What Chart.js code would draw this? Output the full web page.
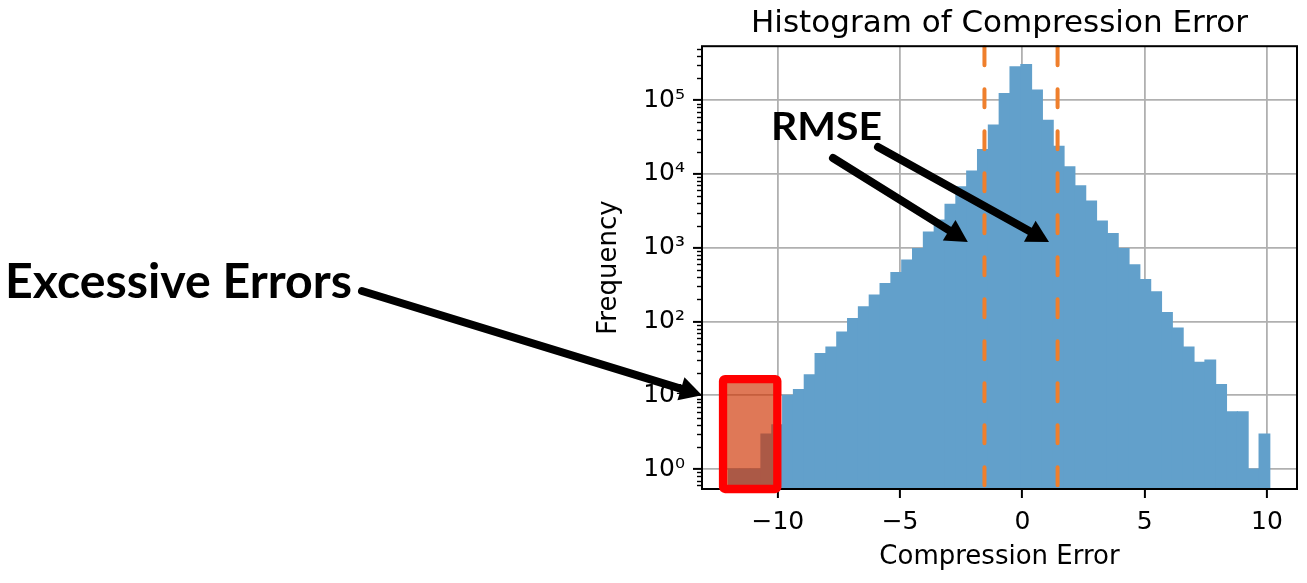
<!DOCTYPE html>
<html><head><meta charset="utf-8">
<script src="https://cdn.jsdelivr.net/npm/chart.js@4"></script>
<style>html,body{margin:0;padding:0;background:#fff;}#wrap{width:1307px;height:583px;position:relative;}</style>
</head><body><div id="wrap"><canvas id="c" width="1307" height="583"></canvas></div>
<script>
// ---- data ----
const binStart = -12.02;
const binWidth = 0.4428;
const counts = [1, 1, 1, 3, 4, 10, 12, 19, 37, 45,
                72, 110, 158, 228, 328, 463, 680, 980, 1640, 2370,
                3900, 6700, 11000, 21500, 46000, 123000, 283000, 305000, 137000, 53500,
                23800, 12500, 6900, 4300, 2300, 1560, 980, 590, 370, 253,
                133, 82, 45, 28, 30, 14, 6, 6, 1, 3];
const rmseLines = [-1.55, 1.44];
const xTicks = [-10, -5, 0, 5, 10];
const xTickLabels = ['\u221210', '\u22125', '0', '5', '10'];
const yTicks = [1, 10, 100, 1000, 10000, 100000];
const yTickLabels = ['10\u2070', '10\u00b9', '10\u00b2', '10\u00b3', '10\u2074', '10\u2075'];
const xRange = [-13.1, 11.23];
const yRange = [0.537, 539000];
const titleText = 'Histogram of Compression Error';
const xLabel = 'Compression Error';
const yLabel = 'Frequency';
const rmseLabel = 'RMSE';
const excessLabel = 'Excessive Errors';
const rmseArrowTips = [[-2.23, 1200], [1.09, 1200]];
const excessBox = {x0: -12.24, x1: -10.02, yTop: 16.6};
const excessArrowTipY = 10;

const barPoints = counts.map((c, i) => ({x: binStart + binWidth * (i + 0.5), y: c}));

function arrow(ctx, x1, y1, x2, y2, w, hl, hw) {
  const a = Math.atan2(y2 - y1, x2 - x1);
  const bx = x2 - hl * Math.cos(a), by = y2 - hl * Math.sin(a);
  ctx.save();
  ctx.strokeStyle = '#000'; ctx.fillStyle = '#000';
  ctx.lineWidth = w; ctx.lineCap = 'round';
  ctx.beginPath(); ctx.moveTo(x1, y1); ctx.lineTo(bx + Math.cos(a) * 2, by + Math.sin(a) * 2); ctx.stroke();
  ctx.beginPath();
  ctx.moveTo(x2, y2);
  ctx.lineTo(bx + hw * Math.sin(a), by - hw * Math.cos(a));
  ctx.lineTo(bx - hw * Math.sin(a), by + hw * Math.cos(a));
  ctx.closePath(); ctx.fill();
  ctx.restore();
}
function fitText(ctx, text, x, baseline, size, targetW) {
  ctx.save();
  ctx.font = 'bold ' + size + 'px Lato';
  const w = ctx.measureText(text).width;
  ctx.translate(x, baseline);
  ctx.scale(targetW / w, 1);
  ctx.fillStyle = '#000';
  ctx.textBaseline = 'alphabetic';
  ctx.textAlign = 'left';
  ctx.fillText(text, 0, 0);
  ctx.restore();
}

const overlay = {
  id: 'overlay',
  afterDraw(chart) {
    const ctx = chart.ctx, xs = chart.scales.x, ys = chart.scales.y, ca = chart.chartArea;
    // minor ticks on log axis
    ctx.save();
    ctx.strokeStyle = '#000'; ctx.lineWidth = 1.4;
    for (let n = -1; n <= 5; n++) {
      for (let k = 2; k <= 9; k++) {
        const v = k * Math.pow(10, n);
        if (v < ys.min || v > ys.max) continue;
        const p = Math.round(ys.getPixelForValue(v)) + 0.5;
        ctx.beginPath(); ctx.moveTo(ca.left - 5, p); ctx.lineTo(ca.left, p); ctx.stroke();
      }
    }
    ctx.restore();
    // RMSE dashed lines
    ctx.save();
    ctx.strokeStyle = '#ef7f2c'; ctx.lineWidth = 4; ctx.lineCap = 'round';
    ctx.setLineDash([18, 24]);
    rmseLines.forEach(v => {
      const px = xs.getPixelForValue(v);
      ctx.beginPath(); ctx.moveTo(px, ys.getPixelForValue(yRange[1]) + 1); ctx.lineTo(px, ys.getPixelForValue(yRange[0])); ctx.stroke();
    });
    ctx.restore();
    // frame
    ctx.save();
    ctx.strokeStyle = '#000'; ctx.lineWidth = 2;
    ctx.strokeRect(ca.left, ca.top, ca.right - ca.left, ca.bottom - ca.top);
    ctx.restore();
    // excessive error box
    const bx0 = xs.getPixelForValue(excessBox.x0), bx1 = xs.getPixelForValue(excessBox.x1);
    const by0 = ys.getPixelForValue(excessBox.yTop), by1 = ca.bottom;
    ctx.save();
    ctx.fillStyle = 'rgba(207,54,4,0.67)';
    ctx.fillRect(bx0, by0, bx1 - bx0, by1 - by0);
    ctx.strokeStyle = '#ff0000'; ctx.lineWidth = 8.3; ctx.lineJoin = 'round';
    ctx.beginPath(); ctx.roundRect(bx0, by0, bx1 - bx0, by1 - by0, 2); ctx.stroke();
    ctx.restore();
    // annotations
    fitText(ctx, rmseLabel, 771, 140, 39, 111);
    fitText(ctx, excessLabel, 5, 298, 47, 347);
    arrow(ctx, 833, 158, xs.getPixelForValue(rmseArrowTips[0][0]), ys.getPixelForValue(rmseArrowTips[0][1]), 8, 22, 12);
    arrow(ctx, 878, 147, xs.getPixelForValue(rmseArrowTips[1][0]), ys.getPixelForValue(rmseArrowTips[1][1]), 8, 22, 12);
    arrow(ctx, 362, 291, ca.left, ys.getPixelForValue(excessArrowTipY), 8, 22, 12);
  }
};

const dejavu = 'DejaVu Sans';
new Chart(document.getElementById('c'), {
  type: 'bar',
  data: {
    datasets: [{
      data: barPoints,
      backgroundColor: 'rgb(98,160,203)',
      borderWidth: 0,
      inflateAmount: 0.5,
      barPercentage: 1,
      categoryPercentage: 1
    }]
  },
  options: {
    responsive: false,
    animation: false,
    devicePixelRatio: 1,
    layout: {padding: {left: 580, right: 10, top: 0, bottom: 0}},
    plugins: {
      legend: {display: false},
      tooltip: {enabled: false},
      title: {
        display: true, text: titleText, fullSize: false, color: '#000',
        font: {family: dejavu, size: 31, weight: 'normal'},
        padding: {top: 5, bottom: 4}
      }
    },
    scales: {
      x: {
        type: 'linear', min: xRange[0], max: xRange[1], offset: false, z: 1,
        afterBuildTicks: s => { s.ticks = xTicks.map(v => ({value: v})); },
        afterFit: s => { s.height = 94; },
        ticks: {
          color: '#000', font: {family: dejavu, size: 25}, padding: 9, maxRotation: 0,
          callback: (v) => xTickLabels[xTicks.indexOf(v)]
        },
        grid: {color: '#b0b0b0', lineWidth: 1.8, offset: false, drawTicks: true, tickLength: 9, tickColor: '#000', tickWidth: 2},
        border: {display: false},
        title: {display: true, text: xLabel, color: '#000', font: {family: dejavu, size: 26}, padding: {top: 0, bottom: 10}}
      },
      y: {
        type: 'logarithmic', min: yRange[0], max: yRange[1], z: 1,
        afterBuildTicks: s => { s.ticks = yTicks.map(v => ({value: v})); },
        afterFit: s => { s.width = 122; },
        ticks: {
          color: '#000', font: {family: dejavu, size: 25}, padding: 8,
          callback: (v) => yTickLabels[yTicks.indexOf(v)]
        },
        grid: {color: '#b0b0b0', lineWidth: 1.8, drawTicks: true, tickLength: 9, tickColor: '#000', tickWidth: 2},
        border: {display: false},
        title: {display: true, text: yLabel, color: '#000', font: {family: dejavu, size: 26}, padding: {top: 14, bottom: 0}}
      }
    }
  },
  plugins: [overlay]
});
</script></body></html>
